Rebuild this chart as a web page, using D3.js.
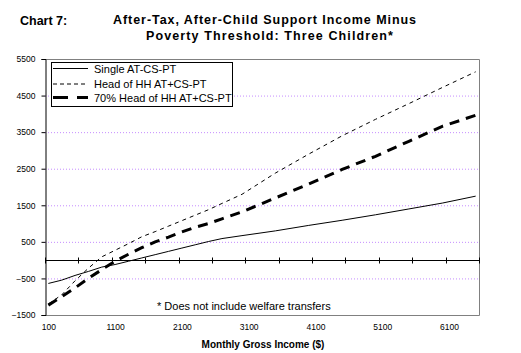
<!DOCTYPE html>
<html>
<head>
<meta charset="utf-8">
<script src="https://cdn.jsdelivr.net/npm/d3@7"></script>
<style>
  body { margin: 0; background: #fff; }
  svg { font-family: Arial, "Liberation Sans", sans-serif; }
</style>
</head>
<body>
<div id="chart"></div>
<script>
// monthly gross income points
const incomes = [100, 300, 500, 700, 900, 1100, 1300, 1500, 1700, 1900, 2100, 2300,
  2500, 2700, 3000, 3500, 4000, 4500, 5000, 5500, 6000, 6500];

const singleVals = [-637, -547, -418, -309, -190, -120, -30, 60, 150, 240, 330, 420,
  510, 590, 670, 800, 950, 1090, 1240, 1400, 1560, 1750];

const hohVals = [-1200, -950, -565, -220, 90, 270, 450, 640, 780, 930, 1080, 1230,
  1380, 1550, 1800, 2380, 2900, 3400, 3850, 4280, 4720, 5150];

const hoh70Vals = [-1230, -1000, -760, -500, -260, -30, 160, 340, 500, 630, 770, 900,
  1000, 1130, 1320, 1700, 2080, 2480, 2840, 3250, 3660, 3960];

const yTicks = [-1500, -500, 500, 1500, 2500, 3500, 4500, 5500];
const gridVals = [-500, 500, 1500, 2500, 3500, 4500];
const xLabels = [100, 1100, 2100, 3100, 4100, 5100, 6100];
const xTickMarks = d3.range(50, 6551, 500);

const series = [
  { label: 'Single AT-CS-PT', values: singleVals, width: 1, dash: null, legendDash: null },
  { label: 'Head of HH AT+CS-PT', values: hohVals, width: 1, dash: '4,4', legendDash: '4,3' },
  { label: '70% Head of HH AT+CS-PT', values: hoh70Vals, width: 3, dash: '10,7', legendDash: '15,9' }
];

const width = 521, height = 353;
const plot = { left: 45, right: 479, top: 59, bottom: 315 };

const svg = d3.select('#chart').append('svg')
  .attr('width', width)
  .attr('height', height);

// scales: category axis of $100 steps from 100 to 6500
const x = d3.scaleLinear()
  .domain([50, 6550])
  .range([plot.left, plot.right]);

const y = d3.scaleLinear()
  .domain([-1500, 5500])
  .range([plot.bottom, plot.top]);

// titles
svg.append('text')
  .attr('x', 20).attr('y', 25)
  .attr('font-size', 12.5).attr('font-weight', 'bold')
  .text('Chart 7:');

svg.append('text')
  .attr('x', 265).attr('y', 24)
  .attr('text-anchor', 'middle')
  .attr('font-size', 12.5).attr('font-weight', 'bold')
  .attr('letter-spacing', 0.95)
  .text('After-Tax, After-Child Support Income Minus');

svg.append('text')
  .attr('x', 270).attr('y', 40)
  .attr('text-anchor', 'middle')
  .attr('font-size', 12.5).attr('font-weight', 'bold')
  .attr('letter-spacing', 1.1)
  .text('Poverty Threshold: Three Children*');

// gridlines
svg.append('g')
  .selectAll('line')
  .data(gridVals)
  .join('line')
    .attr('x1', plot.left).attr('x2', plot.right)
    .attr('y1', d => y(d) + 0.5).attr('y2', d => y(d) + 0.5)
    .attr('stroke', '#c58cff')
    .attr('stroke-width', 1)
    .attr('stroke-dasharray', '1,2');

// plot border (top, right, bottom)
svg.append('path')
  .attr('d', `M${plot.left},${plot.top + 0.5}H${plot.right + 0.5}V${plot.bottom + 0.5}H${plot.left}`)
  .attr('fill', 'none')
  .attr('stroke', '#808080');

// y axis
const yAxis = svg.append('g')
  .attr('transform', `translate(${plot.left + 0.5},0)`)
  .call(d3.axisLeft(y).tickValues(yTicks).tickSize(4).tickPadding(6).tickFormat(d3.format('d')));
yAxis.select('.domain').attr('stroke', '#000');
yAxis.selectAll('text').attr('font-size', 8.5).attr('font-family', 'Arial, sans-serif');

// zero line with crossing tick marks
const zeroY = Math.round(y(0)) + 0.5;
svg.append('line')
  .attr('x1', plot.left).attr('x2', plot.right)
  .attr('y1', zeroY).attr('y2', zeroY)
  .attr('stroke', '#000');
svg.append('g')
  .selectAll('line')
  .data(xTickMarks)
  .join('line')
    .attr('x1', d => Math.round(x(d)) + 0.5).attr('x2', d => Math.round(x(d)) + 0.5)
    .attr('y1', zeroY - 3).attr('y2', zeroY + 3)
    .attr('stroke', '#000');

// x labels at bottom
const xAxis = svg.append('g')
  .attr('transform', `translate(0,${plot.bottom})`)
  .call(d3.axisBottom(x).tickValues(xLabels).tickSize(0).tickPadding(9).tickFormat(d3.format('d')));
xAxis.select('.domain').remove();
xAxis.selectAll('text').attr('font-size', 8.5).attr('font-family', 'Arial, sans-serif');

svg.append('text')
  .attr('x', 263).attr('y', 348)
  .attr('text-anchor', 'middle')
  .attr('font-size', 10).attr('font-weight', 'bold')
  .text('Monthly Gross Income ($)');

// lines
const line = d3.line()
  .x((d, i) => x(incomes[i]))
  .y(d => y(d));

svg.append('g')
  .selectAll('path')
  .data(series)
  .join('path')
    .attr('d', d => line(d.values))
    .attr('fill', 'none')
    .attr('stroke', '#000')
    .attr('stroke-width', d => d.width)
    .attr('stroke-dasharray', d => d.dash);

// footnote
svg.append('text')
  .attr('x', 157).attr('y', 309.5)
  .attr('font-size', 11)
  .text('* Does not include welfare transfers');

// legend
const legend = svg.append('g').attr('transform', 'translate(51,62)');
legend.append('rect')
  .attr('x', 0.5).attr('y', 0.5)
  .attr('width', 181).attr('height', 44)
  .attr('fill', '#fff')
  .attr('stroke', '#000');

const rowY = [6.5, 22, 35.5];
series.forEach((s, i) => {
  legend.append('line')
    .attr('x1', 2).attr('x2', 37)
    .attr('y1', rowY[i]).attr('y2', rowY[i])
    .attr('stroke', '#000')
    .attr('stroke-width', s.width)
    .attr('stroke-dasharray', s.legendDash);
  legend.append('text')
    .attr('x', 43).attr('y', rowY[i] + 4)
    .attr('font-size', 11)
    .text(s.label);
});
</script>
</body>
</html>
